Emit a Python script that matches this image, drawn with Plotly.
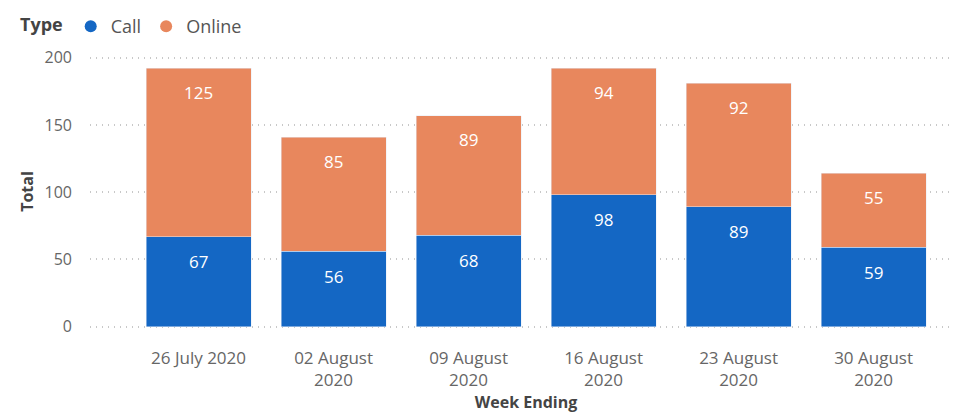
import plotly.graph_objects as go

weeks = ["26 July 2020", "02 August<br>2020", "09 August<br>2020", "16 August<br>2020", "23 August<br>2020", "30 August<br>2020"]
call = [67, 56, 68, 98, 89, 59]
online = [125, 85, 89, 94, 92, 55]
y_ticks = [0, 50, 100, 150, 200]

CALL_C = "#1467C4"
ONLINE_C = "#E8875D"
FONT = "Open Sans"

fig = go.Figure()
fig.add_trace(go.Bar(x=weeks, y=call, name="Call", marker_color=CALL_C, showlegend=False))
fig.add_trace(go.Bar(x=weeks, y=online, name="Online", marker_color=ONLINE_C, showlegend=False))
# legend entries with circle markers
fig.add_trace(go.Scatter(x=[None], y=[None], mode="markers", name="Call",
                         marker=dict(color=CALL_C, size=16, symbol="circle")))
fig.add_trace(go.Scatter(x=[None], y=[None], mode="markers", name="Online",
                         marker=dict(color=ONLINE_C, size=16, symbol="circle")))

# data labels near the top of each segment
for w, c, o in zip(weeks, call, online):
    fig.add_annotation(x=w, y=c, text=str(c), showarrow=False, yanchor="middle", yshift=-25,
                       font=dict(color="white", size=17, family=FONT))
    fig.add_annotation(x=w, y=c + o, text=str(o), showarrow=False, yanchor="middle", yshift=-24,
                       font=dict(color="white", size=17, family=FONT))

fig.update_layout(
    width=962, height=414,
    barmode="stack", bargap=0.222,
    plot_bgcolor="white", paper_bgcolor="white",
    margin=dict(l=82, r=8, t=47, b=94, autoexpand=False),
    font=dict(family=FONT, color="#666666", size=16),
    legend=dict(orientation="h", x=10 / 962, xref="container", xanchor="left",
                y=1.0, yref="container", yanchor="top", traceorder="normal",
                title=dict(text="<b>Type</b>", font=dict(color="#444444", size=18)),
                font=dict(size=18, color="#555555"), itemsizing="constant", tracegroupgap=0,
                itemwidth=30, bgcolor="rgba(0,0,0,0)"),
    xaxis=dict(range=[-0.804, 5.655], showgrid=False, showline=False, ticks="", automargin=False,
               tickfont=dict(size=17, color="#666666"), ticklabelstandoff=18,
               title=dict(text="<b>Week Ending</b>", font=dict(size=16, color="#444444"), standoff=0)),
    yaxis=dict(range=[-1, 202], tickvals=y_ticks, showgrid=True, gridcolor="#C8C8C8",
               griddash="1px,5px", gridwidth=1.5, zeroline=False, showline=False, ticks="",
               automargin=False,
               tickfont=dict(size=16, color="#666666"), ticklabelstandoff=17,
               title=dict(text="<b>Total</b>", font=dict(size=16, color="#444444"), standoff=6)),
)
fig.write_html("out.html")
